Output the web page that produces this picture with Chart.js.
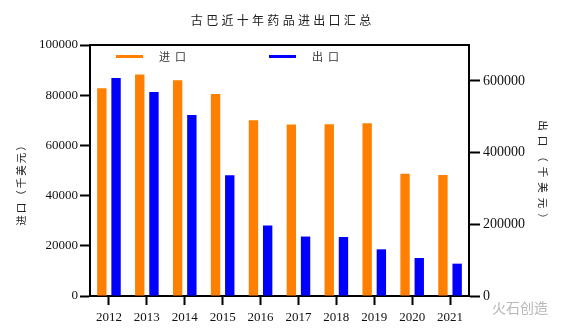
<!DOCTYPE html>
<html>
<head>
<meta charset="utf-8">
<script src="https://cdn.jsdelivr.net/npm/chart.js@4.4.1/dist/chart.umd.min.js"></script>
<style>
html, body { margin: 0; padding: 0; background: #fff; }
#wrap { width: 564px; height: 332px; position: relative; }
</style>
</head>
<body>
<div id="wrap"><canvas id="chart"></canvas></div>
<script>
var years = ["2012", "2013", "2014", "2015", "2016", "2017", "2018", "2019", "2020", "2021"];
var imports = [82800, 88200, 86000, 80500, 70000, 68300, 68400, 68800, 48700, 48200]; // left axis
var exports = [608000, 569000, 504500, 336600, 196600, 165800, 164600, 130200, 105900, 90200]; // right axis
var leftTicks = [0, 20000, 40000, 60000, 80000, 100000];
var rightTicks = [0, 200000, 400000, 600000];
var rightMax = 700000;

var titleText = "古巴近十年药品进出口汇总";
var leftTitle = "进口（千美元）";
var rightTitle = "出口（千美元）";
var cjk = '"Noto Sans CJK SC", sans-serif';
var serif = '"Liberation Serif", "DejaVu Serif", serif';

function spacedText(ctx, text, x, y, spacing) {
    ctx.letterSpacing = spacing + "px";
    var w = ctx.measureText(text).width - spacing;
    ctx.textAlign = "left";
    ctx.fillText(text, x - w / 2, y);
    ctx.letterSpacing = "0px";
}

function plain(v) { return String(v); }

var decor = {
    id: "decor",
    afterDraw: function (chart) {
        var ctx = chart.ctx;
        var a = chart.chartArea;
        ctx.save();
        // top frame line
        ctx.strokeStyle = "#000";
        ctx.lineWidth = 2;
        ctx.beginPath();
        ctx.moveTo(a.left - 1, a.top);
        ctx.lineTo(a.right + 1, a.top);
        ctx.stroke();

        // title
        ctx.fillStyle = "#222";
        ctx.textBaseline = "middle";
        ctx.font = "12px " + cjk;
        spacedText(ctx, titleText, 281, 20, 3.3);

        // legend
        var ds = chart.data.datasets;
        var items = [{ x: 116, tx: 159 }, { x: 269, tx: 312 }];
        items.forEach(function (it, i) {
            ctx.strokeStyle = ds[i].backgroundColor;
            ctx.lineWidth = 3;
            ctx.beginPath();
            ctx.moveTo(it.x, 56.5);
            ctx.lineTo(it.x + 27, 56.5);
            ctx.stroke();
            ctx.fillStyle = "#333";
            ctx.font = "11px " + cjk;
            ctx.letterSpacing = "5px";
            ctx.textAlign = "left";
            ctx.fillText(ds[i].label, it.tx, 57);
            ctx.letterSpacing = "0px";
        });

        // axis titles
        ctx.font = "10.5px " + cjk;
        ctx.fillStyle = "#222";
        ctx.save();
        ctx.translate(21, 183);
        ctx.rotate(-Math.PI / 2);
        spacedText(ctx, leftTitle, 0, 0, 2);
        ctx.restore();
        ctx.save();
        ctx.translate(543, 172);
        ctx.rotate(Math.PI / 2);
        spacedText(ctx, rightTitle, 0, 0, 5);
        ctx.restore();

        // watermark text
        ctx.fillStyle = "#b8b8b8";
        ctx.font = "14px " + cjk;
        ctx.textAlign = "left";
        ctx.fillText("火石创造", 492, 308);
        ctx.restore();
    }
};

var axisColor = "#000";

new Chart(document.getElementById("chart"), {
    type: "bar",
    data: {
        labels: years,
        datasets: [
            {
                label: "进口",
                data: imports,
                yAxisID: "y",
                backgroundColor: "#ff8000",
                barPercentage: 0.66,
                categoryPercentage: 0.75
            },
            {
                label: "出口",
                data: exports,
                yAxisID: "y2",
                backgroundColor: "#0000ff",
                barPercentage: 0.66,
                categoryPercentage: 0.75
            }
        ]
    },
    options: {
        responsive: true,
        maintainAspectRatio: false,
        animation: false,
        layout: { padding: { top: 45, left: 0, right: 0, bottom: 0 } },
        plugins: {
            legend: { display: false },
            title: { display: false },
            tooltip: { enabled: false }
        },
        scales: {
            x: {
                offset: true,
                grid: { offset: false, drawOnChartArea: false, tickLength: 9, tickWidth: 2, color: axisColor, tickColor: axisColor },
                border: { color: axisColor, width: 2 },
                ticks: { color: "#111", font: { family: serif, size: 13 }, padding: 5, maxRotation: 0 },
                afterFit: function (s) { s.height = 36; }
            },
            y: {
                position: "left",
                min: 0,
                max: 100000,
                grid: { drawOnChartArea: false, tickLength: 10, tickWidth: 2, color: axisColor, tickColor: axisColor },
                border: { color: axisColor, width: 2 },
                ticks: { color: "#111", font: { family: serif, size: 13 }, padding: 2, callback: plain },
                afterBuildTicks: function (s) { s.ticks = leftTicks.map(function (v) { return { value: v }; }); },
                afterFit: function (s) { s.width = 90; }
            },
            y2: {
                position: "right",
                min: 0,
                max: rightMax,
                grid: { drawOnChartArea: false, tickLength: 11, tickWidth: 2, color: axisColor, tickColor: axisColor },
                border: { color: axisColor, width: 2 },
                ticks: { color: "#111", font: { family: serif, size: 14 }, padding: 3, callback: plain },
                afterBuildTicks: function (s) { s.ticks = rightTicks.map(function (v) { return { value: v }; }); },
                afterFit: function (s) { s.width = 95; }
            }
        }
    },
    plugins: [decor]
});
</script>
</body>
</html>
